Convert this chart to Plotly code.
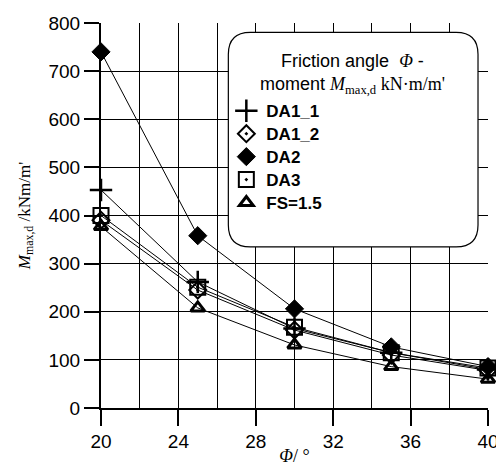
import plotly.graph_objects as go

phi = [20, 25, 30, 35, 40]
da1_1 = [453, 262, 165, 115, 80]
da1_2 = [390, 245, 162, 110, 78]
da2 = [740, 358, 206, 127, 86]
da3 = [400, 251, 168, 115, 83]
fs15 = [377, 208, 131, 86, 60]

series = [
    ("DA1_1", da1_1, "cross-thin-open", 16, 2.5),
    ("DA1_2", da1_2, "diamond-open-dot", 13, 2),
    ("DA2", da2, "diamond", 14, 1),
    ("DA3", da3, "square-open-dot", 15, 2),
    ("FS=1.5", fs15, "triangle-up-open", 12, 3),
]

# plot area in pixels: x 100.5..488, y 22.7..408.3
pw, ph = 387.5, 385.6
def px(x):
    return (x - 100.5) / pw
def py(y):
    return (408.3 - y) / ph

legend_rows = [111, 134, 157, 180, 203]
legend_ids = ["legend", "legend2", "legend3", "legend4", "legend5"]

fig = go.Figure()
for (name, vals, sym, size, lw), lid in zip(series, legend_ids):
    mk = dict(symbol=sym, size=size, color="black", line=dict(color="black", width=lw))
    fig.add_trace(go.Scatter(
        x=phi, y=vals, name=name, mode="lines+markers", legendgroup=name,
        line=dict(color="black", width=1), marker=mk,
        cliponaxis=False, showlegend=False,
    ))
    fig.add_trace(go.Scatter(
        x=[None], y=[None], name=name, mode="markers", legendgroup=name,
        marker=mk, showlegend=True, legend=lid,
    ))

x0, x1, y0, y1, r = 228, 478, 32, 247, 22
path = (f"M {px(x0+r)},{py(y0)} L {px(x1-r)},{py(y0)} "
        f"Q {px(x1)},{py(y0)} {px(x1)},{py(y0+r)} L {px(x1)},{py(y1-r)} "
        f"Q {px(x1)},{py(y1)} {px(x1-r)},{py(y1)} L {px(x0+r)},{py(y1)} "
        f"Q {px(x0)},{py(y1)} {px(x0)},{py(y1-r)} L {px(x0)},{py(y0+r)} "
        f"Q {px(x0)},{py(y0)} {px(x0+r)},{py(y0)} Z")

serif = "Liberation Serif, Times New Roman, serif"
legend_title = ("Friction angle  <span style='font-family:Liberation Serif'><i>Φ</i></span> -<br>"
                "moment <span style='font-family:Liberation Serif'><i>M</i><sub>max,d</sub> kN·m/m'</span>")

legends = {}
for lid, row in zip(legend_ids, legend_rows):
    legends[lid] = dict(
        x=px(226), y=py(row), xanchor="left", yanchor="middle",
        bgcolor="rgba(0,0,0,0)", borderwidth=0,
        font=dict(size=17, weight="bold"),
        itemsizing="trace",
    )

fig.update_layout(
    width=496, height=466,
    margin=dict(l=100.5, r=8, t=22.7, b=57.7),
    paper_bgcolor="white", plot_bgcolor="white",
    font=dict(family="Liberation Sans, Arial, sans-serif", color="black", size=19),
    shapes=[dict(type="path", path=path, xref="paper", yref="paper",
                 fillcolor="white", line=dict(color="black", width=1.2), layer="above")],
    annotations=[dict(text=legend_title, xref="paper", yref="paper",
                      x=px(352), y=py(74), xanchor="center", yanchor="middle",
                      align="center", showarrow=False,
                      font=dict(size=18, family="Liberation Sans, Arial, sans-serif"))],
    xaxis=dict(
        range=[20, 40], dtick=4, tick0=20,
        showgrid=True, gridcolor="black", gridwidth=1,
        minor=dict(dtick=2, showgrid=True, gridcolor="black", gridwidth=1),
        showline=True, linecolor="black", linewidth=2,
        ticks="outside", ticklen=16, tickwidth=2, tickcolor="black",
        ticklabelstandoff=-1, ticklabeloverflow="allow",
        zeroline=False, automargin=False,
        title=dict(text="<i>Φ</i>/ °", font=dict(family=serif, size=18), standoff=12),
    ),
    yaxis=dict(
        range=[0, 800], dtick=100,
        showgrid=True, gridcolor="black", gridwidth=1,
        showline=True, linecolor="black", linewidth=2,
        ticks="outside", ticklen=15, tickwidth=2, tickcolor="black",
        zeroline=False, automargin=False,
        title=dict(text="<i>M</i><sub>max,d</sub> /kNm/m'", font=dict(family=serif, size=17), standoff=14),
    ),
    **legends,
)

fig.write_html("out.html")
